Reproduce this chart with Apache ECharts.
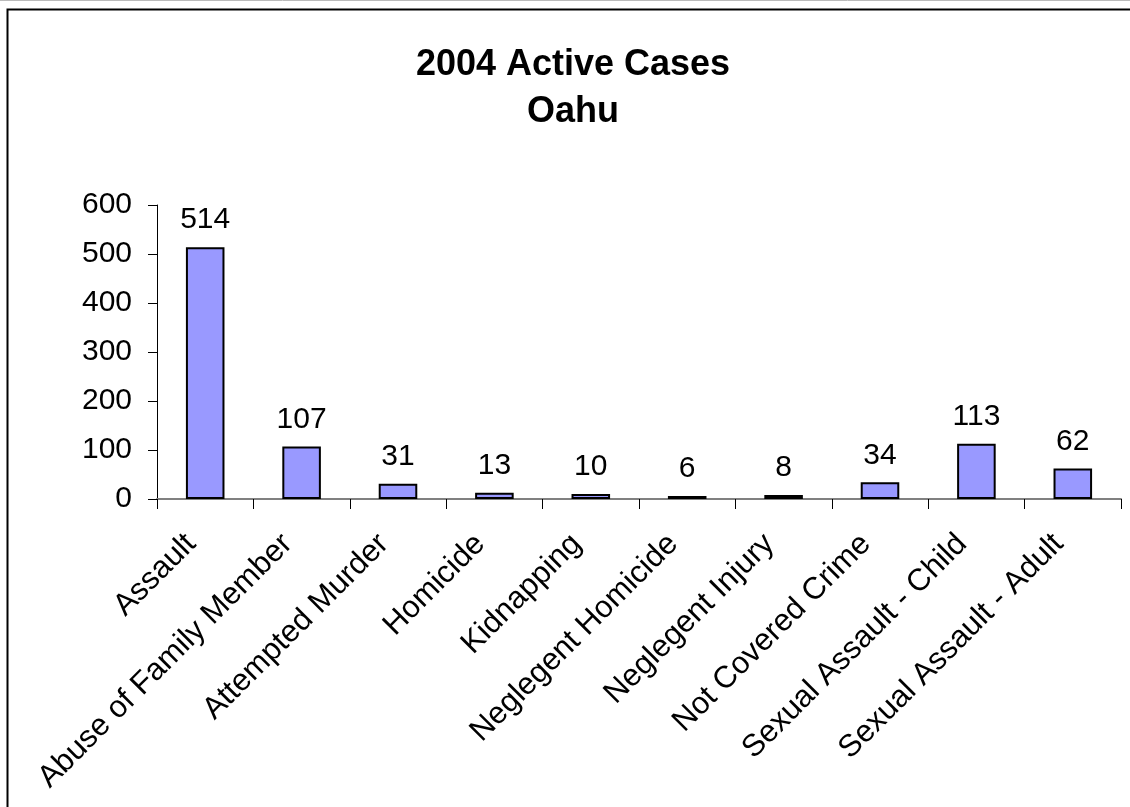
<!DOCTYPE html>
<html>
<head>
<meta charset="utf-8">
<title>2004 Active Cases Oahu</title>
<script src="https://cdn.jsdelivr.net/npm/echarts@6/dist/echarts.min.js"></script>
<style>
  html, body { margin: 0; padding: 0; background: #fff; }
  #main { width: 1130px; height: 807px; }
</style>
</head>
<body>
<div id="main"></div>
<script>
// case types and counts
var categories = [
  "Assault",
  "Abuse of Family Member",
  "Attempted Murder",
  "Homicide",
  "Kidnapping",
  "Neglegent Homicide",
  "Neglegent Injury",
  "Not Covered Crime",
  "Sexual Assault - Child",
  "Sexual Assault - Adult"
];
var activeCases = [514, 107, 31, 13, 10, 6, 8, 34, 113, 62];
var yTicks = [0, 100, 200, 300, 400, 500, 600];

var font = "'Liberation Sans', Arial, sans-serif";
var chart = echarts.init(document.getElementById("main"));

chart.setOption({
  backgroundColor: "#ffffff",
  animation: false,
  title: {
    text: "2004 Active Cases\nOahu",
    left: 568,
    top: 37,
    textAlign: "center",
    textStyle: {
      fontFamily: font,
      fontSize: 36,
      fontWeight: "bold",
      color: "#000000",
      lineHeight: 47
    }
  },
  // outer frame
  graphic: [
    {
      type: "line",
      shape: { x1: 0, y1: 0.5, x2: 1130, y2: 0.5 },
      style: { stroke: "#bbbbbb", lineWidth: 1 }
    },
    {
      type: "rect",
      shape: { x: 7.5, y: 9.5, width: 1140, height: 820 },
      style: { fill: null, stroke: "#000000", lineWidth: 2 }
    }
  ],
  grid: { left: 157, right: 9, top: 205, bottom: 308 },
  xAxis: {
    type: "category",
    data: categories,
    axisLine: { lineStyle: { color: "#808080", width: 2 } },
    axisTick: { show: true, length: 10, lineStyle: { color: "#000000" } },
    axisLabel: {
      rotate: 45,
      interval: 0,
      margin: 26,
      padding: [0, 20, 0, 0],
      fontFamily: font,
      fontSize: 31,
      color: "#000000"
    }
  },
  yAxis: {
    type: "value",
    min: yTicks[0],
    max: yTicks[yTicks.length - 1],
    interval: 100,
    splitLine: { show: false },
    axisLine: { show: true, lineStyle: { color: "#000000", width: 1 } },
    axisTick: { show: true, length: 9, lineStyle: { color: "#000000" } },
    axisLabel: {
      margin: 25,
      fontFamily: font,
      fontSize: 30,
      color: "#000000"
    }
  },
  series: [
    {
      type: "bar",
      data: activeCases,
      barWidth: "40%",
      itemStyle: { color: "#9999ff", borderColor: "#000000", borderWidth: 2 },
      label: {
        show: true,
        position: "top",
        distance: 12,
        fontFamily: font,
        fontSize: 30,
        color: "#000000"
      }
    }
  ]
});
</script>
</body>
</html>
